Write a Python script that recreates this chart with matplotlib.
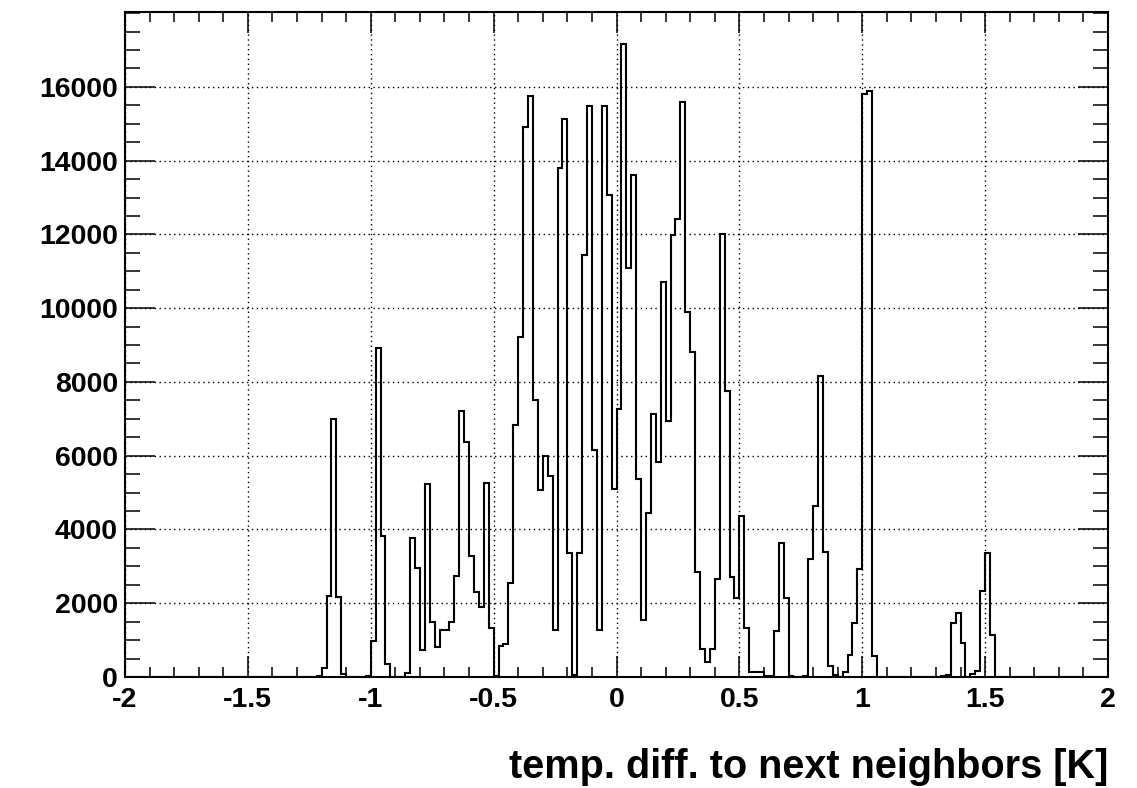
import numpy as np
import matplotlib
matplotlib.use("Agg")
import matplotlib.pyplot as plt
from matplotlib.ticker import MultipleLocator, FixedLocator

# ---- data (histogram, 200 bins of 0.02 from -2 to 2) ----
x_min, x_max, n_bins = -2.0, 2.0, 200
first_bin = 39  # index of first listed bin (left edge -1.22)
listed_counts = [
    30, 240, 2200, 7000, 2180, 70, 0, 0, 0, 0,            # -1.22 .. -1.04
    30, 980, 8930, 3820, 340, 0, 0, 0, 120, 3760,         # -1.02 .. -0.84
    2950, 730, 5245, 1490, 810, 1270, 1270, 1500, 2745, 7200,   # -0.82 .. -0.64
    6380, 3290, 2300, 1900, 5270, 1320, 40, 840, 890, 2560,     # -0.62 .. -0.44
    6820, 9210, 14900, 15750, 7500, 5070, 5980, 5455, 1280, 13800,  # -0.42 .. -0.24
    15120, 3360, 50, 3360, 11430, 15480, 6160, 1280, 15480, 13060,  # -0.22 .. -0.04
    5090, 7260, 17150, 11090, 13600, 5380, 1550, 4440, 7130, 5820,  # -0.02 .. 0.16
    10700, 6950, 11990, 12430, 15600, 9890, 8810, 2860, 766, 420,   # 0.18 .. 0.36
    766, 2670, 12010, 7760, 2700, 2130, 4370, 1340, 133, 133,       # 0.38 .. 0.56
    133, 27, 27, 1260, 3640, 2140, 30, 0, 0, 30,                    # 0.58 .. 0.76
    3200, 4640, 8160, 3390, 311, 45, 0, 133, 595, 1467,             # 0.78 .. 0.96
    2920, 15800, 15880, 560, 0, 0, 0, 0, 0, 0,                      # 0.98 .. 1.16
    0, 0, 0, 0, 0, 0, 0, 30, 60, 1455,                              # 1.18 .. 1.36
    1727, 909, 0, 73, 164, 2345, 3363, 1145, 0,                     # 1.36 .. 1.52
]
counts = np.zeros(n_bins)
counts[first_bin:first_bin + len(listed_counts)] = listed_counts
edges = np.linspace(x_min, x_max, n_bins + 1)

x_ticks = [-2, -1.5, -1, -0.5, 0, 0.5, 1, 1.5, 2]
x_tick_labels = ["-2", "-1.5", "-1", "-0.5", "0", "0.5", "1", "1.5", "2"]
y_ticks = [0, 2000, 4000, 6000, 8000, 10000, 12000, 14000, 16000]
y_tick_labels = [str(v) for v in y_ticks]
x_title = "temp. diff. to next neighbors [K]"

# ---- figure ----
W, H = 1137, 788
fig = plt.figure(figsize=(W / 100, H / 100), dpi=100)
L, R, T, B = 125, 1108, 12, 677
ax = fig.add_axes([L / W, 1 - B / H, (R - L) / W, (B - T) / H])

ax.stairs(counts, edges, color="black", linewidth=1.5)

ax.set_xlim(x_min, x_max)
ax.set_ylim(0, 18030)

font = {"family": ["Liberation Sans", "DejaVu Sans"], "weight": "bold"}
ax.xaxis.set_major_locator(FixedLocator(x_ticks))
ax.xaxis.set_minor_locator(MultipleLocator(0.1))
ax.yaxis.set_major_locator(FixedLocator(y_ticks))
ax.yaxis.set_minor_locator(MultipleLocator(500))
ax.set_xticklabels(x_tick_labels, fontdict=dict(font, size=20.5))
ax.set_yticklabels(y_tick_labels, fontdict=dict(font, size=20.5))

ax.tick_params(axis="both", which="both", direction="in", top=True, right=True,
               width=1.1, color="black")
ax.tick_params(axis="x", which="major", length=15, pad=7)
ax.tick_params(axis="x", which="minor", length=7.5)
ax.tick_params(axis="y", which="major", length=21.5, pad=5)
ax.tick_params(axis="y", which="minor", length=10.8)

ax.grid(True, which="major", color="black", linestyle=(0, (1, 2.5)), linewidth=1)

for s in ax.spines.values():
    s.set_linewidth(1.5)
    s.set_color("black")

fig.text(R / W, 1 - 767 / H, x_title, ha="right", va="center",
         fontdict=dict(font, size=28.5))

fig.savefig("out.png", dpi=100, facecolor="white")
